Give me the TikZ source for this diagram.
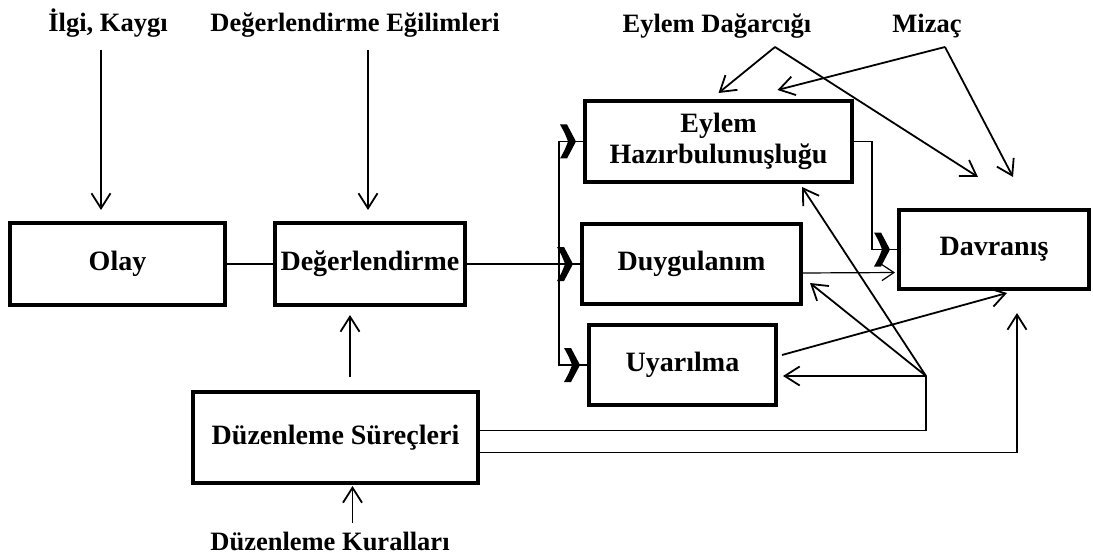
\documentclass[tikz,border=0pt]{standalone}
\usepackage{fontspec}
\setmainfont{Liberation Serif}
\usetikzlibrary{positioning,arrows.meta,calc,decorations.markings}
\tikzset{
  blk/.style={draw,line width=3.2pt,inner sep=0pt,outer sep=0pt,align=center,
    font=\fontsize{28}{31}\selectfont\bfseries},
  lbl/.style={anchor=base,inner sep=0pt,font=\fontsize{26.5}{30}\selectfont\bfseries},
  ln/.style={line width=1.8pt},
  arr/.style={ln,-{Straight Barb[length=15pt,width=19pt]}},
  thinarr/.style={line width=1.2pt,-{Straight Barb[length=12pt,width=16pt]}},
  fork/.style={ln,postaction={decorate},decoration={markings,
      mark=at position -15pt with {\fill (-3pt,-17pt) .. controls (2pt,-8pt) .. (6pt,0pt)
        .. controls (2pt,8pt) .. (-3pt,17pt) -- (-10pt,17pt) .. controls (-5pt,8pt) .. (-2pt,0pt)
        .. controls (-5pt,-8pt) .. (-10pt,-17pt) -- cycle;}}}, % heavy chevron
}
\begin{document}
\begin{tikzpicture}[x=1pt,y=-1pt]
  \useasboundingbox (0,0) rectangle (1093,559);
  % boxes
  \node[blk,minimum width=215pt,minimum height=82pt] (olay) at (117.5,264) {Olay};
  \node[blk,minimum width=190pt,minimum height=82pt] (deger) at (370,264) {Değerlendirme};
  \node[blk,minimum width=267pt,minimum height=81pt] (eylem) at (718.5,141.5) {Eylem\\Hazırbulunuşluğu};
  \node[blk,minimum width=219pt,minimum height=80pt] (duygu) at (691.5,264) {Duygulanım};
  \node[blk,minimum width=187pt,minimum height=80pt] (uyar) at (682.5,365) {Uyarılma};
  \node[blk,minimum width=190pt,minimum height=79pt] (davr) at (994,249.5) {Davranış};
  \node[blk,minimum width=285pt,minimum height=91pt] (duzen) at (335.5,437.5) {Düzenleme Süreçleri};
  % outside labels
  \node[lbl] (ilgi) at (108,32) {İlgi, Kaygı};
  \node[lbl] (egilim) at (355,32) {Değerlendirme Eğilimleri};
  \node[lbl] (dagar) at (717,33) {Eylem Dağarcığı};
  \node[lbl] (mizac) at (927,33) {Mizaç};
  \node[lbl] (kural) at (330,550) {Düzenleme Kuralları};
  \coordinate (ilgiE) at (101,210);
  \coordinate (egilE) at (368,210);
  \coordinate (fk) at (559,264);
  \coordinate (P) at (926,376);
  \coordinate (dg) at (775,47);
  \coordinate (mz) at (945,47);
  % inputs from above
  \draw[arr] ($(ilgiE)+(0,-160)$) -- (ilgiE);
  \draw[arr] ($(egilE)+(0,-160)$) -- (egilE);
  % main chain
  \draw[ln] (olay.east) -- (deger.west);
  \draw[ln] (deger.east) -- (fk);
  \draw[fork] (fk) |- (eylem.west);
  \draw[fork] (fk) -- (duygu.west);
  \draw[fork] (fk) |- (uyar.west);
  \draw[fork] (eylem.east) -- ++(20,0) |- (davr.west);
  \draw[thinarr,shorten >=4pt] ($(duygu.east)+(0,9)$) -- ($(davr.west)+(0,23)$);
  \draw[arr] ($(uyar.east)+(6,-10)$) -- ($(davr.south)+(13,4)$);
  % regulation
  \draw[arr] ($(deger.south)+(-20,72)$) -- ($(deger.south)+(-20,10)$);
  \draw[arr] ($(duzen.south)+(17,40)$) -- ($(duzen.south)+(17,3)$);
  \draw[ln] ($(duzen.east)+(0,-7)$) -| (P);
  \draw[arr] ($(duzen.east)+(0,15)$) -| ($(davr.south)+(23,24)$);
  \draw[arr,shorten >=7pt] (P) -- (P -| uyar.east);
  \draw[arr] (P) -- ($(duygu.east)+(9,19)$);
  \draw[arr] (P) -- ($(eylem.south east)+(-50,5)$);
  % top influences
  \draw[arr] (dg) -- ($(eylem.north)+(0,-8)$);
  \draw[arr] (dg) -- ($(davr.north)+(-16,-33)$);
  \draw[arr] (mz) -- ($(eylem.north)+(59,-11)$);
  \draw[arr] (mz) -- ($(davr.north)+(19,-33)$);
\end{tikzpicture}
\end{document}
